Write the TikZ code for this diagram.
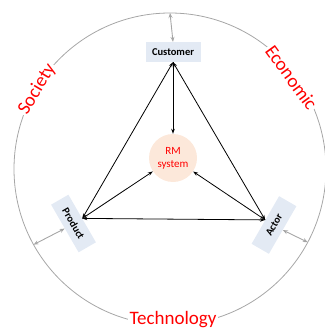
\documentclass[tikz,border=0pt]{standalone}
\usepackage{fontspec}
\setmainfont{Carlito}
\usetikzlibrary{arrows.meta,calc}
\definecolor{boxfill}{HTML}{E3EAF4}
\definecolor{rmfill}{HTML}{FCE8DA}
\definecolor{ringgray}{HTML}{A6A6A6}
\tikzset{
  actorbox/.style={fill=boxfill, minimum width=55pt, minimum height=20pt, inner sep=1pt, font=\fontsize{10.5}{12}\selectfont\bfseries},
  ringlabel/.style={text=red, fill=white, inner sep=1.5pt, font=\fontsize{19}{22}\selectfont},
  tri/.style={black, line width=0.8pt, {Stealth[length=5pt,width=3.5pt]}-{Stealth[length=5pt,width=3.5pt]}},
  spoke/.style={black, line width=0.8pt, -{Stealth[length=5pt,width=3.5pt]}},
  grayarrow/.style={ringgray, line width=0.9pt, {Stealth[length=5pt,width=4pt]}-{Stealth[length=5pt,width=4pt]}}
}
\begin{document}
\begin{tikzpicture}[x=1pt,y=-1pt]
\useasboundingbox (0,0) rectangle (324,329);
\coordinate (c) at (170,169);
\draw[ringgray, line width=0.8pt] (c) circle[radius=156];
% nodes
\node[actorbox] (cust) at (173,52) {Customer};
\node[actorbox, rotate=-60] (prod) at (73.5,223.5) {Product};
\node[actorbox, rotate=60] (act) at (274,225) {Actor};
\node[circle, fill=rmfill, minimum size=48pt, inner sep=0pt, align=center, text=red, font=\fontsize{11}{13}\selectfont] (rm) at (173,158) {RM\\system};
% ring points
\coordinate (ct) at ($(c)+(-90:156)$);
\coordinate (pt) at ($(c)+(151:156)$);
\coordinate (at) at ($(c)+(28:156)$);
% labels
\node[ringlabel, rotate=59] (soc) at ($(c)+(-149:155)$) {Society};
\node[ringlabel, rotate=-54] (eco) at ($(c)+(-37:152)$) {Economic};
\node[ringlabel] (tech) at (173,320) {Technology};
% gray arrows
\draw[grayarrow] (cust.north) -- (ct);
\draw[grayarrow] (prod.south) -- (pt);
\draw[grayarrow] (act.south) -- (at);
% triangle
\draw[tri] (cust.south) -- (prod.north);
\draw[tri] (cust.south) -- (act.north);
\draw[tri] (prod.north) -- (act.north);
% spokes
\draw[spoke] (cust.south) -- (rm);
\draw[spoke] (prod.north) -- (rm);
\draw[spoke] (act.north) -- (rm);
\end{tikzpicture}
\end{document}
